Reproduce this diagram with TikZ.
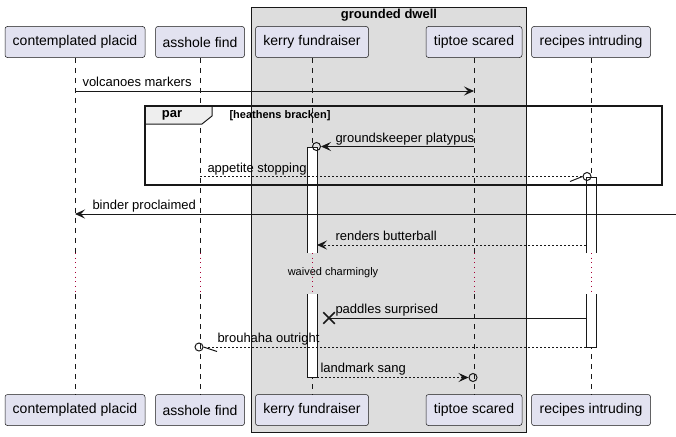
\documentclass[tikz,border=0pt]{standalone}
\usepackage{fontspec}
\setmainfont{Liberation Sans}
\usetikzlibrary{arrows.meta,shapes.misc}

\definecolor{partfill}{HTML}{E2E2F0}
\definecolor{partline}{HTML}{181818}
\definecolor{boxfill}{HTML}{DDDDDD}
\definecolor{tabfill}{HTML}{EEEEEE}
\definecolor{delaycol}{HTML}{A80036}

\newcommand\partfont{\fontsize{14}{16}\selectfont}
\newcommand\msgfont{\fontsize{13}{15}\selectfont}
\newcommand\notefont{\fontsize{11}{13}\selectfont}

\tikzset{
  lifeline/.style={draw=partline, line width=0.5pt, dash pattern=on 5pt off 5pt},
  delayline/.style={draw=delaycol, line width=1pt, dash pattern=on 1pt off 3.7pt},
  msgtip/.style={-{Stealth[length=10pt,width=9pt,inset=4pt]}},
  msgdash/.style={dash pattern=on 2pt off 2pt},
  msglabel/.style={anchor=base west, inner sep=0pt, font=\msgfont},
  endcircle/.style={circle, draw=partline, line width=1pt, minimum size=8pt, inner sep=0pt},
  lostcross/.style={cross out, draw=partline, line width=1.5pt, minimum size=10pt, inner sep=0pt},
}

\begin{document}
\begin{tikzpicture}[x=1pt, y=-1pt, line width=1pt, draw=partline]
  \useasboundingbox (0,0) rectangle (676,436);

  % box round the two inner participants
  \draw[fill=boxfill, line width=0.5pt] (251,7) rectangle (526,432);
  \node[font=\msgfont\bfseries] (dwell) at (389,15.5) {grounded dwell};

  \begin{scope}[every node/.style={draw=partline, fill=partfill, line width=0.5pt,
      rounded corners=2.5pt, minimum height=31pt, inner xsep=0pt, font=\partfont}]
    \node[minimum width=140pt] (placid)    at (75,42)  {contemplated placid};
    \node[minimum width=89pt]  (find)      at (200,42) {asshole find};
    \node[minimum width=113pt] (kerry)     at (312,42) {kerry fundraiser};
    \node[minimum width=96pt]  (tiptoe)    at (474,42) {tiptoe scared};
    \node[minimum width=119pt] (recipes)   at (591,42) {recipes intruding};
    \node[minimum width=140pt] (placid-b)  at (75,410)  {contemplated placid};
    \node[minimum width=89pt]  (find-b)    at (200,410) {asshole find};
    \node[minimum width=113pt] (kerry-b)   at (312,410) {kerry fundraiser};
    \node[minimum width=96pt]  (tiptoe-b)  at (474,410) {tiptoe scared};
    \node[minimum width=119pt] (recipes-b) at (591,410) {recipes intruding};
  \end{scope}

  % lifelines with the delay
  \coordinate (d1) at (0,253);
  \coordinate (d2) at (0,294);
  \foreach \p in {placid,find,kerry,tiptoe,recipes} {
    \draw[lifeline]  (\p.south) -- (\p |- d1);
    \draw[delayline] (\p |- d1) -- (\p |- d2);
    \draw[lifeline]  (\p |- d2) -- (\p-b.north);
  }

  % activations
  \fill[white] (307,147) rectangle (317,253);
  \fill[white] (307,294) rectangle (317,377);
  \fill[white] (586,177) rectangle (596,253);
  \fill[white] (586,294) rectangle (596,347);
  \draw (307,253) -- (307,147) -- (317,147) -- (317,253);
  \draw (307,294) -- (307,377) -- (317,377) -- (317,294);
  \draw (586,253) -- (586,177) -- (596,177) -- (596,253);
  \draw (586,294) -- (586,347) -- (596,347) -- (596,294);
  \coordinate (kerryR) at (317,0);
  \coordinate (recipesL) at (586,0);

  % par fragment
  \draw[fill=tabfill] (145,106) -- (212,106) -- (212,116) -- (202,124) -- (145,124) -- cycle;
  \draw[line width=1.5pt] (145,106) rectangle (662,185);
  \node[font=\msgfont\bfseries] (par) at (172,115) {par};
  \node[font=\notefont\bfseries] (cond) at (280,116) {[heathens bracken]};

  % messages
  \coordinate (m1) at (0,91);
  \draw[msgtip] (placid |- m1) -- (tiptoe |- m1);
  \node[msglabel] (l1) at (82,86) {volcanoes markers};

  \node[endcircle] (c2) at (316.5,146.5) {};
  \draw[msgtip] (tiptoe |- c2) -- (c2.east);
  \node[msglabel] (l2) at (335,142) {groundskeeper platypus};

  \node[endcircle] (c4) at (587,176.5) {};
  \coordinate (s4) at (570,181.5);
  \draw[msgdash] (find |- c4) -- (c4.west);
  \draw (s4) -- (c4.west);
  \node[msglabel] (l4) at (207,172) {appetite stopping};

  \coordinate (m5) at (676,214);
  \draw[msgtip] (m5) -- (placid |- m5);
  \node[msglabel] (l5) at (92,209) {binder proclaimed};

  \coordinate (m6) at (0,245);
  \draw[msgdash, msgtip] (recipesL |- m6) -- (kerryR |- m6);
  \node[msglabel] (l6) at (335,240) {renders butterball};

  \node[font=\notefont] (wait) at (333,273) {waived charmingly};

  \node[lostcross] (x7) at (329,318) {};
  \draw (recipesL |- x7) -- (x7.center);
  \node[msglabel] (l7) at (335,313) {paddles surprised};

  \node[endcircle] (c8) at (199,347) {};
  \coordinate (s8) at (217,351.5);
  \draw[msgdash] (recipesL |- c8) -- (c8.east);
  \draw (c8.east) -- (s8);
  \node[msglabel] (l8) at (217,342) {brouhaha outright};

  \node[endcircle] (c9) at (473,377.5) {};
  \draw[msgdash, msgtip] (kerryR |- c9) -- (c9.west);
  \node[msglabel] (l9) at (320,372) {landmark sang};

\end{tikzpicture}
\end{document}
